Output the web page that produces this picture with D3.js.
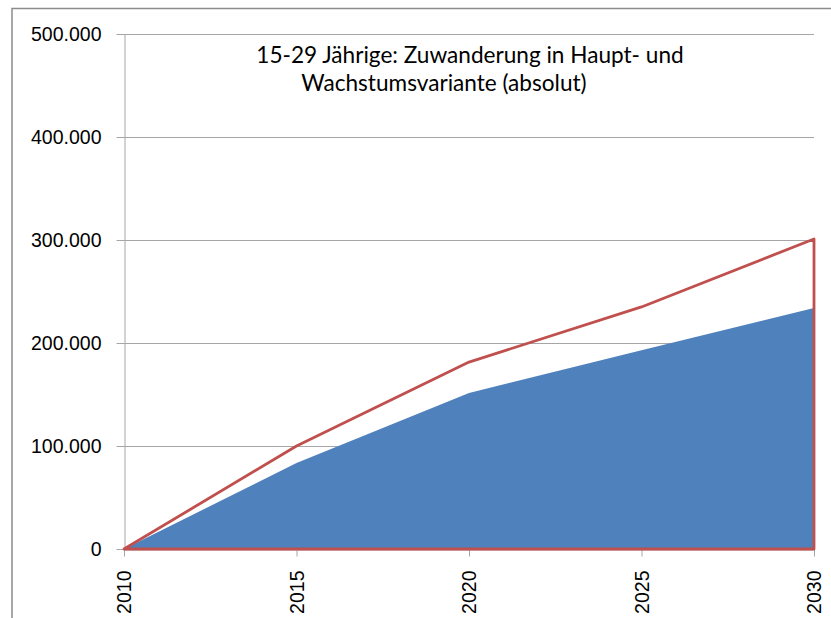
<!DOCTYPE html>
<html>
<head>
<meta charset="utf-8">
<script src="https://cdn.jsdelivr.net/npm/d3@7"></script>
<style>
  body { margin: 0; background: #fff; }
  svg { display: block; }
</style>
</head>
<body>
<svg id="chart" width="831" height="618"></svg>
<script>
// data
const years = [2010, 2015, 2020, 2025, 2030]
const hauptvariante = [0, 83500, 151500, 193000, 234000]
const wachstumsvariante = [0, 100000, 181500, 235000, 301000]
const yTicks = [0, 100000, 200000, 300000, 400000, 500000]
const titleLines = ['15-29 Jährige: Zuwanderung in Haupt- und', 'Wachstumsvariante (absolut)']

const plotLeft = 124, plotRight = 814, plotTop = 34, plotBottom = 549
const gridColor = '#a6a6a6'
const blue = '#4f81bd'
const red = '#c0504d'

const de = d3.formatLocale({decimal: ',', thousands: '.', grouping: [3], currency: ['', ' €']})
const fmt = de.format(',d')

let svg = d3.select('#chart')

// outer chart border
svg.append('path')
  .attr('d', `M12,640 L12,8.5 L840,8.5`)
  .style('fill', 'none')
  .style('stroke', '#8c8c8c')
  .style('stroke-width', 1.5)

let xScale = d3.scaleLinear().domain([2010, 2030]).range([plotLeft, plotRight])
let yScale = d3.scaleLinear().domain([0, 500000]).range([plotBottom, plotTop])

// gridlines
svg.append('g').classed('grid', true)
  .selectAll('line')
  .data(yTicks)
  .enter()
  .append('line')
  .attr('x1', plotLeft)
  .attr('x2', plotRight)
  .attr('y1', d => Math.round(yScale(d)) + 0.5)
  .attr('y2', d => Math.round(yScale(d)) + 0.5)
  .style('stroke', gridColor)
  .style('stroke-width', 1)

let series = years.map((y, i) => ({year: y, haupt: hauptvariante[i], wachstum: wachstumsvariante[i]}))

let blueArea = d3.area()
  .x(d => xScale(d.year))
  .y0(yScale(0))
  .y1(d => yScale(d.haupt))
svg.append('path')
  .datum(series)
  .attr('d', blueArea)
  .style('fill', blue)

// y axis
let yAxis = svg.append('g')
  .attr('transform', `translate(${plotLeft + 0.5}, 0)`)
  .call(d3.axisLeft(yScale).tickValues(yTicks).tickFormat(fmt).tickSizeInner(8).tickSizeOuter(0).tickPadding(15))
yAxis.select('.domain').style('stroke', gridColor)
yAxis.selectAll('.tick line').style('stroke', gridColor)
yAxis.selectAll('.tick text')
  .style('font-family', '"Liberation Sans", Arial, sans-serif')
  .style('font-size', '19.5px')
  .style('fill', '#000')

// x axis
let xAxis = svg.append('g')
  .attr('transform', `translate(0, ${plotBottom + 0.5})`)
  .call(d3.axisBottom(xScale).tickValues(years).tickFormat(d3.format('d')).tickSizeInner(7).tickSizeOuter(0))
xAxis.select('.domain').style('stroke', gridColor)
xAxis.selectAll('.tick line').style('stroke', gridColor)
xAxis.selectAll('.tick text')
  .attr('transform', 'rotate(-90)')
  .attr('x', -21)
  .attr('y', 0)
  .attr('dy', '0.35em')
  .style('text-anchor', 'end')
  .style('font-family', '"Liberation Sans", Arial, sans-serif')
  .style('font-size', '19.5px')
  .style('fill', '#000')

// red outlined area
let redArea = d3.area()
  .x(d => xScale(d.year))
  .y0(yScale(0))
  .y1(d => yScale(d.wachstum))
svg.append('path')
  .datum(series)
  .attr('d', redArea)
  .style('fill', 'none')
  .style('stroke', red)
  .style('stroke-width', 2.8)
  .style('stroke-linejoin', 'round')

// title
let titleX = [470, 444]
let titleY = [63, 91]
svg.append('g').classed('title', true)
  .selectAll('text')
  .data(titleLines)
  .enter()
  .append('text')
  .attr('x', (d, i) => titleX[i])
  .attr('y', (d, i) => titleY[i])
  .style('text-anchor', 'middle')
  .style('font-family', 'Lato, "Open Sans", sans-serif')
  .style('font-size', '22.6px')
  .style('fill', '#000')
  .text(d => d)
</script>
</body>
</html>
